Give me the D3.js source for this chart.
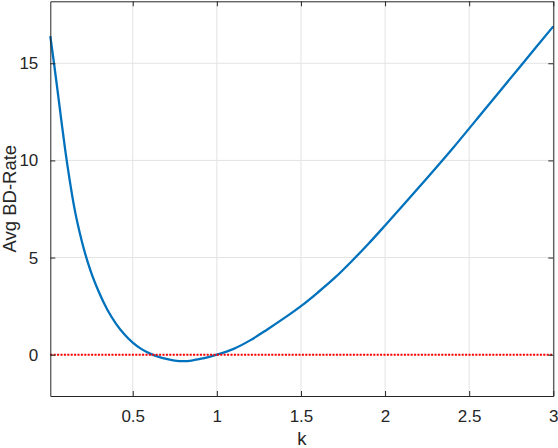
<!DOCTYPE html>
<html>
<head>
<meta charset="utf-8">
<script src="https://cdn.jsdelivr.net/npm/d3@7/dist/d3.min.js"></script>
<style>
  html, body { margin: 0; padding: 0; background: #fff; }
  svg { display: block; }
  text { font-family: "Liberation Sans", Arial, Helvetica, sans-serif; fill: #262626; }
</style>
</head>
<body>
<svg id="chart" width="558" height="448"></svg>
<script>
// ---- data ----
const kValues = [0.01, 0.032, 0.05, 0.075, 0.1, 0.125, 0.15, 0.2, 0.25, 0.3, 0.35, 0.4, 0.45, 0.5, 0.55, 0.6, 0.65, 0.7, 0.75, 0.8, 0.85, 0.9, 0.95, 1.0, 1.1, 1.2, 1.3, 1.4, 1.5, 1.6, 1.7, 1.8, 1.9, 2.0, 2.2, 2.4, 2.6, 2.8, 3.0];
const bdRate  = [16.4, 15.0, 13.8, 12.1, 10.45, 9.0, 7.7, 5.75, 4.3, 3.2, 2.3, 1.6, 1.05, 0.62, 0.3, 0.07, -0.1, -0.22, -0.3, -0.33, -0.3, -0.22, -0.12, 0.0, 0.3, 0.75, 1.3, 1.88, 2.5, 3.2, 3.95, 4.8, 5.7, 6.65, 8.6, 10.6, 12.7, 14.8, 16.9];
const refLine = [0, 0];
const xTicks = [0.5, 1, 1.5, 2, 2.5, 3];
const xTickLabels = ["0.5", "1", "1.5", "2", "2.5", "3"];
const yTicks = [0, 5, 10, 15];
const yTickLabels = ["0", "5", "10", "15"];
const xDomain = [0.01, 3];
const yDomain = [-2.126, 18.19];
const xLabel = "k";
const yLabel = "Avg BD-Rate";

// ---- layout ----
const L = 50.3, R = 553.3, T = 1.3, B = 396;
const svg = d3.select("#chart");
const x = d3.scaleLinear().domain(xDomain).range([L, R]);
const y = d3.scaleLinear().domain(yDomain).range([B, T]);

// grid
const grid = svg.append("g");
grid.selectAll("line.gx").data(xTicks).join("line")
  .attr("x1", d => x(d)).attr("x2", d => x(d)).attr("y1", T).attr("y2", B)
  .attr("stroke", "#e3e3e3").attr("stroke-width", 1);
grid.selectAll("line.gy").data(yTicks).join("line")
  .attr("y1", d => y(d)).attr("y2", d => y(d)).attr("x1", L).attr("x2", R)
  .attr("stroke", "#e3e3e3").attr("stroke-width", 1);

// data lines
const data = kValues.map((k, i) => [k, bdRate[i]]);
svg.append("path").datum(data)
  .attr("fill", "none").attr("stroke", "#0072BD").attr("stroke-width", 2.3)
  .attr("stroke-linejoin", "round")
  .attr("d", d3.line().x(d => x(d[0])).y(d => y(d[1])).curve(d3.curveMonotoneX));

svg.append("path").datum(xDomain.map((k, i) => [k, refLine[i]]))
  .attr("fill", "none").attr("stroke", "#ff0000").attr("stroke-width", 2)
  .attr("stroke-dasharray", "2,1.4")
  .attr("d", d3.line().x(d => x(d[0])).y(d => y(d[1])));

// axes
const fmtX = (d) => xTickLabels[xTicks.indexOf(d)];
const fmtY = (d) => yTickLabels[yTicks.indexOf(d)];
const axB = svg.append("g").attr("transform", `translate(0,${B})`)
  .call(d3.axisBottom(x).tickValues(xTicks).tickFormat(fmtX).tickSizeInner(-5).tickSizeOuter(0).tickPadding(14));
const axT = svg.append("g").attr("transform", `translate(0,${T})`)
  .call(d3.axisTop(x).tickValues(xTicks).tickFormat("").tickSizeInner(-5).tickSizeOuter(0));
const axL = svg.append("g").attr("transform", `translate(${L},0)`)
  .call(d3.axisLeft(y).tickValues(yTicks).tickFormat(fmtY).tickSizeInner(-5).tickSizeOuter(0).tickPadding(12));
const axR = svg.append("g").attr("transform", `translate(${R},0)`)
  .call(d3.axisRight(y).tickValues(yTicks).tickFormat("").tickSizeInner(-5).tickSizeOuter(0));
[axB, axT, axL, axR].forEach(g => {
  g.selectAll(".domain").attr("stroke", "#262626");
  g.selectAll(".tick line").attr("stroke", "#262626");
  g.selectAll("text").style("font-family", '"Liberation Sans", Arial, sans-serif').style("font-size", "17px").attr("fill", "#262626");
});

// labels
svg.append("text").attr("x", (L + R) / 2).attr("y", 445).attr("text-anchor", "middle")
  .style("font-size", "18.5px").text(xLabel);
svg.append("text").attr("transform", `translate(15.5,${(T + B) / 2}) rotate(-90)`).attr("text-anchor", "middle")
  .style("font-size", "18.5px").text(yLabel);
</script>
</body>
</html>
